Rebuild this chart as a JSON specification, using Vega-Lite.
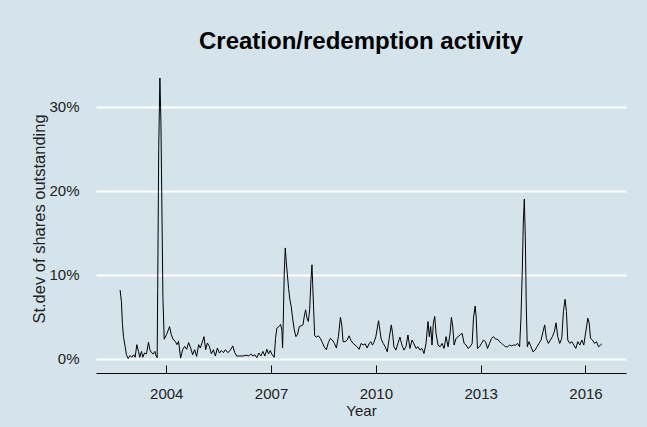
{
  "$schema": "https://vega.github.io/schema/vega-lite/v6.json",
  "width": 530,
  "height": 309,
  "autosize": {"type": "none"},
  "padding": {"left": 96, "top": 64, "right": 21, "bottom": 54},
  "background": "#d5e4eb",
  "title": {"text": "Creation/redemption activity", "font": "Liberation Sans", "fontSize": 24, "fontWeight": "bold", "color": "black", "anchor": "middle", "offset": 10},
  "data": {"values": [
    {"t": 2002.680, "v": 8.2}, {"t": 2002.718, "v": 6.8}, {"t": 2002.746, "v": 4.2}, {"t": 2002.775, "v": 2.7},
    {"t": 2002.823, "v": 1.5}, {"t": 2002.861, "v": 0.5}, {"t": 2002.909, "v": 0.05}, {"t": 2002.966, "v": 0.4},
    {"t": 2003.014, "v": 0.2}, {"t": 2003.072, "v": 0.5}, {"t": 2003.110, "v": 0.2}, {"t": 2003.158, "v": 1.7},
    {"t": 2003.206, "v": 0.9}, {"t": 2003.244, "v": 0.2}, {"t": 2003.292, "v": 0.9}, {"t": 2003.330, "v": 0.2},
    {"t": 2003.378, "v": 0.7}, {"t": 2003.435, "v": 0.6}, {"t": 2003.493, "v": 2.0}, {"t": 2003.531, "v": 1.1},
    {"t": 2003.579, "v": 0.75}, {"t": 2003.627, "v": 0.6}, {"t": 2003.675, "v": 0.9}, {"t": 2003.713, "v": 0.35},
    {"t": 2003.741, "v": 0.15}, {"t": 2003.756, "v": 8.4}, {"t": 2003.785, "v": 25.0}, {"t": 2003.819, "v": 33.4},
    {"t": 2003.848, "v": 28.2}, {"t": 2003.877, "v": 17.7}, {"t": 2003.905, "v": 7.4}, {"t": 2003.942, "v": 2.35},
    {"t": 2004.009, "v": 2.9}, {"t": 2004.096, "v": 3.85}, {"t": 2004.143, "v": 2.9}, {"t": 2004.201, "v": 2.3},
    {"t": 2004.258, "v": 2.1}, {"t": 2004.306, "v": 1.7}, {"t": 2004.354, "v": 2.1}, {"t": 2004.411, "v": 0.1},
    {"t": 2004.469, "v": 1.1}, {"t": 2004.526, "v": 1.5}, {"t": 2004.584, "v": 1.15}, {"t": 2004.641, "v": 1.95},
    {"t": 2004.699, "v": 1.3}, {"t": 2004.756, "v": 0.5}, {"t": 2004.813, "v": 1.1}, {"t": 2004.871, "v": 0.3},
    {"t": 2004.928, "v": 1.7}, {"t": 2004.976, "v": 1.3}, {"t": 2005.024, "v": 1.9}, {"t": 2005.081, "v": 2.65},
    {"t": 2005.129, "v": 1.1}, {"t": 2005.177, "v": 1.9}, {"t": 2005.234, "v": 1.5}, {"t": 2005.292, "v": 0.6},
    {"t": 2005.349, "v": 1.1}, {"t": 2005.407, "v": 0.35}, {"t": 2005.464, "v": 1.3}, {"t": 2005.522, "v": 0.7},
    {"t": 2005.579, "v": 1.0}, {"t": 2005.636, "v": 0.75}, {"t": 2005.694, "v": 1.1}, {"t": 2005.761, "v": 0.75},
    {"t": 2005.828, "v": 1.0}, {"t": 2005.904, "v": 1.55}, {"t": 2005.962, "v": 0.75}, {"t": 2006.019, "v": 0.35},
    {"t": 2006.096, "v": 0.35}, {"t": 2006.191, "v": 0.35}, {"t": 2006.287, "v": 0.45}, {"t": 2006.364, "v": 0.35},
    {"t": 2006.421, "v": 0.6}, {"t": 2006.478, "v": 0.35}, {"t": 2006.536, "v": 0.5}, {"t": 2006.593, "v": 0.15},
    {"t": 2006.651, "v": 0.7}, {"t": 2006.708, "v": 0.35}, {"t": 2006.766, "v": 0.9}, {"t": 2006.823, "v": 0.35},
    {"t": 2006.880, "v": 1.15}, {"t": 2006.928, "v": 0.6}, {"t": 2006.976, "v": 1.0}, {"t": 2007.033, "v": 0.5},
    {"t": 2007.091, "v": 0.2}, {"t": 2007.129, "v": 2.45}, {"t": 2007.167, "v": 3.65}, {"t": 2007.225, "v": 3.85},
    {"t": 2007.273, "v": 4.1}, {"t": 2007.311, "v": 3.45}, {"t": 2007.330, "v": 1.3}, {"t": 2007.349, "v": 4.25},
    {"t": 2007.378, "v": 10.2}, {"t": 2007.407, "v": 13.2}, {"t": 2007.435, "v": 11.6}, {"t": 2007.464, "v": 10.2},
    {"t": 2007.502, "v": 8.4}, {"t": 2007.541, "v": 7.0}, {"t": 2007.579, "v": 6.2}, {"t": 2007.617, "v": 4.85},
    {"t": 2007.665, "v": 3.45}, {"t": 2007.713, "v": 2.65}, {"t": 2007.761, "v": 2.95}, {"t": 2007.809, "v": 3.85},
    {"t": 2007.866, "v": 3.95}, {"t": 2007.914, "v": 4.05}, {"t": 2007.952, "v": 5.1}, {"t": 2007.990, "v": 5.85},
    {"t": 2008.029, "v": 4.85}, {"t": 2008.067, "v": 4.45}, {"t": 2008.105, "v": 5.85}, {"t": 2008.143, "v": 9.4},
    {"t": 2008.172, "v": 11.2}, {"t": 2008.191, "v": 9.0}, {"t": 2008.220, "v": 5.85}, {"t": 2008.249, "v": 2.75},
    {"t": 2008.296, "v": 2.6}, {"t": 2008.354, "v": 2.75}, {"t": 2008.411, "v": 2.45}, {"t": 2008.469, "v": 1.95},
    {"t": 2008.526, "v": 1.4}, {"t": 2008.584, "v": 1.1}, {"t": 2008.641, "v": 1.95}, {"t": 2008.699, "v": 2.45},
    {"t": 2008.756, "v": 2.25}, {"t": 2008.813, "v": 1.85}, {"t": 2008.871, "v": 1.3}, {"t": 2008.928, "v": 2.65},
    {"t": 2008.986, "v": 4.95}, {"t": 2009.024, "v": 4.05}, {"t": 2009.062, "v": 2.05}, {"t": 2009.120, "v": 2.05},
    {"t": 2009.177, "v": 2.25}, {"t": 2009.234, "v": 2.75}, {"t": 2009.292, "v": 2.15}, {"t": 2009.349, "v": 1.85},
    {"t": 2009.407, "v": 1.65}, {"t": 2009.464, "v": 1.45}, {"t": 2009.521, "v": 1.15}, {"t": 2009.579, "v": 1.85},
    {"t": 2009.636, "v": 1.65}, {"t": 2009.694, "v": 1.8}, {"t": 2009.751, "v": 1.3}, {"t": 2009.809, "v": 1.85},
    {"t": 2009.860, "v": 2.05}, {"t": 2009.900, "v": 1.65}, {"t": 2009.943, "v": 1.95}, {"t": 2010.000, "v": 2.65},
    {"t": 2010.077, "v": 4.55}, {"t": 2010.115, "v": 3.45}, {"t": 2010.153, "v": 2.35}, {"t": 2010.211, "v": 1.85},
    {"t": 2010.268, "v": 1.45}, {"t": 2010.326, "v": 0.85}, {"t": 2010.383, "v": 2.45}, {"t": 2010.441, "v": 4.05},
    {"t": 2010.479, "v": 3.05}, {"t": 2010.517, "v": 1.45}, {"t": 2010.574, "v": 1.05}, {"t": 2010.632, "v": 1.85},
    {"t": 2010.689, "v": 2.6}, {"t": 2010.747, "v": 1.65}, {"t": 2010.804, "v": 1.05}, {"t": 2010.862, "v": 1.45},
    {"t": 2010.919, "v": 2.85}, {"t": 2010.976, "v": 1.25}, {"t": 2011.034, "v": 2.25}, {"t": 2011.091, "v": 1.8},
    {"t": 2011.149, "v": 1.25}, {"t": 2011.206, "v": 1.45}, {"t": 2011.263, "v": 1.05}, {"t": 2011.321, "v": 1.25},
    {"t": 2011.378, "v": 0.65}, {"t": 2011.436, "v": 1.85}, {"t": 2011.493, "v": 4.45}, {"t": 2011.531, "v": 2.65},
    {"t": 2011.570, "v": 3.85}, {"t": 2011.608, "v": 1.65}, {"t": 2011.646, "v": 4.25}, {"t": 2011.685, "v": 5.05},
    {"t": 2011.723, "v": 3.05}, {"t": 2011.780, "v": 1.65}, {"t": 2011.838, "v": 1.45}, {"t": 2011.895, "v": 1.85},
    {"t": 2011.952, "v": 1.25}, {"t": 2012.010, "v": 2.65}, {"t": 2012.067, "v": 1.45}, {"t": 2012.125, "v": 3.05},
    {"t": 2012.163, "v": 4.95}, {"t": 2012.201, "v": 3.85}, {"t": 2012.240, "v": 1.65}, {"t": 2012.297, "v": 2.45},
    {"t": 2012.354, "v": 2.65}, {"t": 2012.412, "v": 2.85}, {"t": 2012.469, "v": 3.05}, {"t": 2012.527, "v": 1.85},
    {"t": 2012.584, "v": 1.65}, {"t": 2012.641, "v": 1.25}, {"t": 2012.699, "v": 1.45}, {"t": 2012.756, "v": 1.85},
    {"t": 2012.795, "v": 4.85}, {"t": 2012.842, "v": 6.3}, {"t": 2012.871, "v": 5.05}, {"t": 2012.909, "v": 1.25},
    {"t": 2012.967, "v": 1.45}, {"t": 2013.024, "v": 1.85}, {"t": 2013.082, "v": 2.25}, {"t": 2013.139, "v": 2.05},
    {"t": 2013.197, "v": 1.25}, {"t": 2013.254, "v": 1.85}, {"t": 2013.311, "v": 2.45}, {"t": 2013.369, "v": 2.65},
    {"t": 2013.426, "v": 2.35}, {"t": 2013.484, "v": 2.35}, {"t": 2013.541, "v": 2.05}, {"t": 2013.598, "v": 1.85},
    {"t": 2013.656, "v": 1.65}, {"t": 2013.713, "v": 1.45}, {"t": 2013.771, "v": 1.45}, {"t": 2013.828, "v": 1.65},
    {"t": 2013.885, "v": 1.55}, {"t": 2013.943, "v": 1.65}, {"t": 2014.000, "v": 1.65}, {"t": 2014.058, "v": 1.85},
    {"t": 2014.115, "v": 1.45}, {"t": 2014.153, "v": 4.85}, {"t": 2014.192, "v": 10.6}, {"t": 2014.220, "v": 16.15},
    {"t": 2014.249, "v": 19.0}, {"t": 2014.278, "v": 14.55}, {"t": 2014.307, "v": 6.05}, {"t": 2014.335, "v": 1.45},
    {"t": 2014.383, "v": 2.05}, {"t": 2014.441, "v": 1.45}, {"t": 2014.498, "v": 0.85}, {"t": 2014.555, "v": 1.05},
    {"t": 2014.613, "v": 1.45}, {"t": 2014.670, "v": 1.85}, {"t": 2014.728, "v": 2.25}, {"t": 2014.785, "v": 3.25},
    {"t": 2014.833, "v": 4.05}, {"t": 2014.881, "v": 2.45}, {"t": 2014.938, "v": 1.85}, {"t": 2014.996, "v": 2.25},
    {"t": 2015.053, "v": 2.65}, {"t": 2015.110, "v": 3.25}, {"t": 2015.158, "v": 4.3}, {"t": 2015.206, "v": 2.65},
    {"t": 2015.263, "v": 1.85}, {"t": 2015.321, "v": 2.45}, {"t": 2015.369, "v": 5.65}, {"t": 2015.417, "v": 7.1},
    {"t": 2015.455, "v": 5.65}, {"t": 2015.493, "v": 2.25}, {"t": 2015.551, "v": 1.85}, {"t": 2015.608, "v": 2.05},
    {"t": 2015.665, "v": 1.65}, {"t": 2015.723, "v": 1.25}, {"t": 2015.780, "v": 2.05}, {"t": 2015.838, "v": 1.65},
    {"t": 2015.895, "v": 2.25}, {"t": 2015.952, "v": 1.65}, {"t": 2016.010, "v": 3.25}, {"t": 2016.067, "v": 4.85},
    {"t": 2016.106, "v": 4.25}, {"t": 2016.144, "v": 2.45}, {"t": 2016.201, "v": 2.25}, {"t": 2016.259, "v": 1.85},
    {"t": 2016.316, "v": 2.05}, {"t": 2016.374, "v": 1.45}, {"t": 2016.431, "v": 1.65}, {"t": 2016.469, "v": 1.8}
  ]},
  "mark": {"type": "line", "color": "black", "strokeWidth": 1},
  "encoding": {
    "x": {
      "field": "t", "type": "quantitative",
      "scale": {"domain": [2001.99, 2017.16], "nice": false, "zero": false},
      "axis": {
        "title": "Year", "values": [2004, 2007, 2010, 2013, 2016], "format": "d",
        "grid": false, "domain": true, "domainColor": "black", "domainWidth": 1,
        "ticks": true, "tickColor": "black", "tickSize": -8, "tickWidth": 1,
        "labelPadding": 21, "titlePadding": 2
      }
    },
    "y": {
      "field": "v", "type": "quantitative",
      "scale": {"domain": [-1.67, 35.07], "nice": false, "zero": false},
      "axis": {
        "title": "St.dev of shares outstanding", "values": [0, 10, 20, 30],
        "labelExpr": "datum.value + '%'",
        "grid": true, "gridColor": "white", "gridWidth": 2,
        "domain": false, "ticks": false, "labelPadding": 17, "titlePadding": 1,
        "titleFontSize": 16.5
      }
    }
  },
  "config": {
    "view": {"stroke": null},
    "axis": {
      "labelFont": "Liberation Sans", "labelFontSize": 15, "labelColor": "#222222",
      "titleFont": "Liberation Sans", "titleFontSize": 15, "titleFontWeight": "normal", "titleColor": "#222222"
    }
  }
}
